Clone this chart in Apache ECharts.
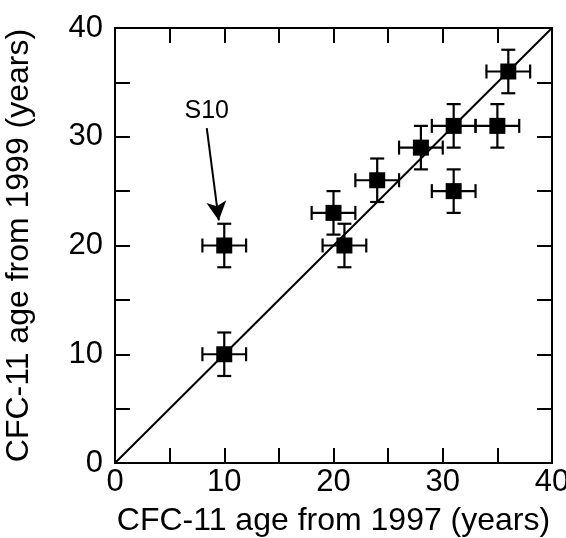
<!DOCTYPE html>
<html>
<head>
<meta charset="utf-8">
<script src="https://cdn.jsdelivr.net/npm/echarts@6/dist/echarts.min.js"></script>
<style>
  html, body { margin: 0; padding: 0; background: #fff; }
  #chart { width: 566px; height: 538px; }
</style>
</head>
<body>
<div id="chart"></div>
<script>
// CFC-11 ages: 1997 survey (x) vs 1999 survey (y)
const age1997 = [10, 10, 20, 21, 24, 28, 31, 31, 35, 36];
const age1999 = [10, 20, 23, 20, 26, 29, 31, 25, 31, 36];
const err1997 = [2, 2, 2, 2, 2, 2, 2, 2, 2, 2];
const err1999 = [2, 2, 2, 2, 2, 2, 2, 2, 2, 2];
const oneToOne = [[0, 0], [40, 40]];
const s10Label = [[8.4, 32.4]];
const s10Arrow = [[8.4, 30.8], [9.5, 22.3]];
const tickLabels = ['0', '10', '20', '30', '40'];

const font = 'Liberation Sans, Arial, Helvetica, sans-serif';

let chart = echarts.init(document.getElementById('chart'));

const points = age1997.map((x, i) => [x, age1999[i], err1997[i], err1999[i]]);

function tickFmt(v) {
    return v % 10 === 0 ? tickLabels[v / 10] : '';
}

const axisCommon = {
    type: 'value',
    min: 0,
    max: 40,
    interval: 5,
    splitLine: { show: false },
    axisLine: { show: true, onZero: false, lineStyle: { color: '#000', width: 2 } },
    axisTick: { show: true, inside: true, length: 15, lineStyle: { color: '#000', width: 2 } }
};

chart.setOption({
    animation: false,
    grid: { left: 115, top: 28, width: 437, height: 435, containLabel: false, outerBoundsMode: 'none' },
    xAxis: [
        Object.assign({}, axisCommon, {
            position: 'bottom',
            name: 'CFC-11 age from 1997 (years)',
            nameLocation: 'middle',
            nameGap: 42,
            nameTextStyle: { fontFamily: font, fontSize: 32, color: '#000' },
            axisLabel: { formatter: tickFmt, fontFamily: font, fontSize: 31, color: '#000', margin: 4, showMinLabel: true, showMaxLabel: true }
        }),
        Object.assign({}, axisCommon, {
            position: 'top',
            axisLabel: { show: false }
        })
    ],
    yAxis: [
        Object.assign({}, axisCommon, {
            position: 'left',
            name: 'CFC-11 age from 1999 (years)',
            nameLocation: 'middle',
            nameGap: 80,
            nameTextStyle: { fontFamily: font, fontSize: 32, color: '#000' },
            axisLabel: { formatter: tickFmt, fontFamily: font, fontSize: 31, color: '#000', margin: 12, showMinLabel: true, showMaxLabel: true }
        }),
        Object.assign({}, axisCommon, {
            position: 'right',
            axisLabel: { show: false }
        })
    ],
    series: [
        {
            type: 'line',
            data: oneToOne,
            symbol: 'none',
            lineStyle: { color: '#000', width: 2 },
            silent: true,
            markLine: {
                silent: true,
                symbol: ['none', 'arrow'],
                symbolSize: [15, 19],
                label: { show: false },
                lineStyle: { color: '#000', width: 2, type: 'solid' },
                data: [[{ coord: s10Arrow[0] }, { coord: s10Arrow[1] }]]
            }
        },
        {
            type: 'custom',
            data: points,
            renderItem: function (params, api) {
                const x = api.value(0), y = api.value(1);
                const ex = api.value(2), ey = api.value(3);
                const c = api.coord([x, y]);
                const l = api.coord([x - ex, y]);
                const r = api.coord([x + ex, y]);
                const t = api.coord([x, y + ey]);
                const b = api.coord([x, y - ey]);
                const cap = 7;
                const style = { stroke: '#000', lineWidth: 2.2 };
                const seg = (x1, y1, x2, y2) => ({ type: 'line', shape: { x1, y1, x2, y2 }, style });
                return {
                    type: 'group',
                    children: [
                        seg(l[0], c[1], r[0], c[1]),
                        seg(c[0], t[1], c[0], b[1]),
                        seg(l[0], c[1] - cap, l[0], c[1] + cap),
                        seg(r[0], c[1] - cap, r[0], c[1] + cap),
                        seg(c[0] - cap, t[1], c[0] + cap, t[1]),
                        seg(c[0] - cap, b[1], c[0] + cap, b[1])
                    ]
                };
            },
            z: 3
        },
        {
            type: 'scatter',
            data: points.map(p => [p[0], p[1]]),
            symbol: 'rect',
            symbolSize: 16,
            itemStyle: { color: '#000', opacity: 1 },
            z: 4
        },
        {
            type: 'scatter',
            data: s10Label,
            symbolSize: 0,
            itemStyle: { opacity: 1 },
            label: {
                show: true,
                position: 'inside',
                formatter: 'S10',
                fontFamily: font,
                fontSize: 25,
                color: '#000'
            }
        }
    ]
});
</script>
</body>
</html>
